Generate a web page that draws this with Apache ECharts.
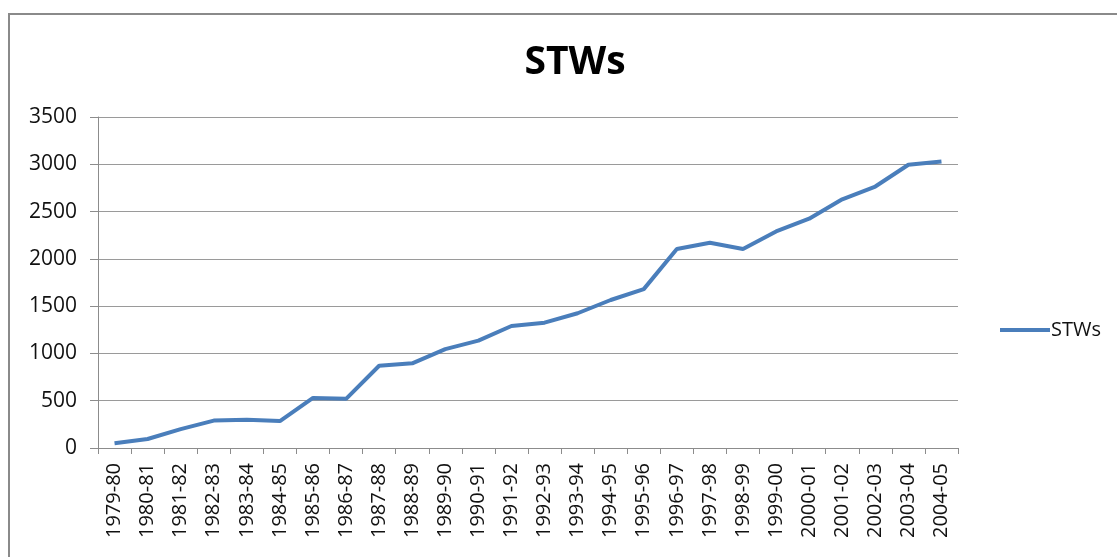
<!DOCTYPE html>
<html>
<head>
    <meta charset="utf-8">
    <title>STWs</title>
    <script src="https://cdn.jsdelivr.net/npm/echarts@6/dist/echarts.min.js"></script>
    <style>
        html, body { margin: 0; padding: 0; background: #fff; }
    </style>
</head>
<body>
    <div id="main" style="width:1117px;height:557px;"></div>
    <script type="text/javascript">
// years on the x axis
var years = ['1979-80','1980-81','1981-82','1982-83','1983-84','1984-85','1985-86','1986-87',
    '1987-88','1988-89','1989-90','1990-91','1991-92','1992-93','1993-94','1994-95','1995-96',
    '1996-97','1997-98','1998-99','1999-00','2000-01','2001-02','2002-03','2003-04','2004-05'];
// STWs count
var stws = [50, 95, 200, 290, 300, 285, 530, 520, 870, 895, 1045, 1135, 1290, 1325, 1425, 1565, 1680,
    2105, 2170, 2105, 2290, 2425, 2630, 2765, 2995, 3030];
var yTicks = {min: 0, max: 3500, step: 500};

var font = "'Open Sans', 'Noto Sans', sans-serif";
var myChart = echarts.init(document.getElementById('main'));
var option = {
    animation: false,
    backgroundColor: '#fff',
    textStyle: {fontFamily: font},
    // frame of the original chart object
    graphic: [{
        type: 'rect',
        shape: {x: 9, y: 14, width: 1200, height: 600},
        style: {fill: 'none', stroke: '#8a8a8a', lineWidth: 2},
        silent: true
    }],
    title: {
        text: 'STWs',
        left: 570, top: 38,
        textAlign: 'center',
        textStyle: {fontFamily: font, fontWeight: 'bold', fontSize: 39, color: '#000'}
    },
    legend: {
        data: ['STWs'],
        left: 995, top: 315,
        icon: 'rect',
        itemWidth: 50, itemHeight: 4, itemGap: 2,
        textStyle: {fontFamily: font, fontSize: 20, color: '#111', padding: [0, 0, 0, -4]}
    },
    grid: {left: 98, right: 159, top: 117, bottom: 109, containLabel: false},
    xAxis: {
        type: 'category',
        data: years,
        boundaryGap: true,
        axisLine: {lineStyle: {color: '#8c8c8c', width: 1}},
        axisTick: {show: true, length: 6, lineStyle: {color: '#8c8c8c'}},
        axisLabel: {rotate: 90, interval: 0, margin: 15, fontFamily: font, fontSize: 20, color: '#111'}
    },
    yAxis: {
        type: 'value',
        min: yTicks.min, max: yTicks.max, interval: yTicks.step,
        axisLine: {show: true, lineStyle: {color: '#8c8c8c', width: 1}},
        axisTick: {show: true, length: 8, lineStyle: {color: '#8c8c8c'}},
        splitLine: {lineStyle: {color: '#9a9a9a', width: 1}},
        axisLabel: {margin: 21, fontFamily: font, fontSize: 21, color: '#111',
            formatter: function (v) { return String(v); }}
    },
    series: [{
        name: 'STWs',
        type: 'line',
        data: stws,
        symbol: 'none',
        smooth: false,
        lineStyle: {color: '#4a7ebb', width: 4},
        itemStyle: {color: '#4a7ebb'}
    }]
};
myChart.setOption(option);
    </script>
</body>
</html>
